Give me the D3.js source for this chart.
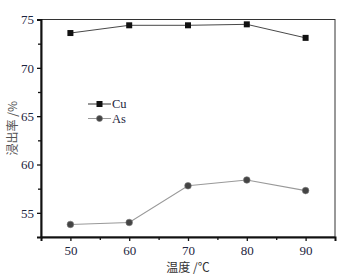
<!DOCTYPE html>
<html>
<head>
<meta charset="utf-8">
<script src="https://cdn.jsdelivr.net/npm/d3@7"></script>
<style>
  body { margin: 0; background: #fff; }
  text { font-family: "Liberation Serif", "DejaVu Serif", serif; }
</style>
</head>
<body>
<svg id="chart" width="351" height="277"></svg>
<script>
// data
const temps = [50, 60, 70, 80, 90];
const cuValues = [73.6, 74.4, 74.4, 74.5, 73.1];
const asValues = [53.8, 54.0, 57.8, 58.4, 57.3];
const xTicks = [50, 60, 70, 80, 90];
const yTicks = [55, 60, 65, 70, 75];

const margin = { top: 19.5, right: 16, bottom: 40, left: 41 };
const width = 351, height = 277;
const textColor = '#1d2540';

const svg = d3.select('#chart');

const x = d3.scaleLinear().domain([45, 95]).range([margin.left, width - margin.right]);
const y = d3.scaleLinear().domain([52.5, 75]).range([height - margin.bottom, margin.top]);

// frame top / right
svg.append('rect')
    .attr('x', x(45)).attr('y', y(75))
    .attr('width', x(95) - x(45)).attr('height', y(52.5) - y(75))
    .attr('fill', 'none').attr('stroke', '#333').attr('stroke-width', 1);

// bottom axis
const xAxis = svg.append('g')
    .attr('transform', `translate(0,${y(52.5)})`)
    .call(d3.axisBottom(x).tickValues(xTicks).tickSize(4).tickPadding(5).tickFormat(d3.format('d')));
svg.append('g')
    .attr('transform', `translate(0,${y(52.5)})`)
    .call(d3.axisBottom(x).tickValues([55, 65, 75, 85]).tickSize(3).tickFormat(''))
    .call(g => g.select('.domain').remove());

// left axis
const yAxis = svg.append('g')
    .attr('transform', `translate(${x(45)},0)`)
    .call(d3.axisLeft(y).tickValues(yTicks).tickSize(4).tickPadding(3).tickFormat(d3.format('d')));
svg.append('g')
    .attr('transform', `translate(${x(45)},0)`)
    .call(d3.axisLeft(y).tickValues([57.5, 62.5, 67.5, 72.5]).tickSize(3).tickFormat(''))
    .call(g => g.select('.domain').remove());

svg.selectAll('.domain').attr('stroke', '#111').attr('stroke-width', 2);
svg.selectAll('.tick line').attr('stroke', '#111').attr('stroke-width', 1.3);
svg.selectAll('.tick text').attr('fill', textColor).style('font-size', '13px')
    .style('font-family', '"Liberation Serif", serif');

// series
const line = d3.line().x((d, i) => x(temps[i])).y(d => y(d));

svg.append('path').datum(cuValues)
    .attr('d', line).attr('fill', 'none').attr('stroke', '#333').attr('stroke-width', 0.9);
svg.append('path').datum(asValues)
    .attr('d', line).attr('fill', 'none').attr('stroke', '#999').attr('stroke-width', 1.1);

svg.selectAll('.cu-pt').data(cuValues).join('rect')
    .attr('x', (d, i) => x(temps[i]) - 3).attr('y', d => y(d) - 3)
    .attr('width', 6).attr('height', 6).attr('fill', '#111');
svg.selectAll('.as-pt').data(asValues).join('circle')
    .attr('cx', (d, i) => x(temps[i])).attr('cy', d => y(d))
    .attr('r', 3.3).attr('fill', '#444').attr('stroke', '#777').attr('stroke-width', 0.6);

// legend
const legend = [
  { name: 'Cu', stroke: '#333', marker: 'rect' },
  { name: 'As', stroke: '#999', marker: 'circle' }
];
const lg = svg.append('g').attr('transform', 'translate(88,104)');
legend.forEach((d, i) => {
  const g = lg.append('g').attr('transform', `translate(0,${i * 14.5})`);
  g.append('line').attr('x1', 0).attr('x2', 23).attr('stroke', d.stroke).attr('stroke-width', 1);
  if (d.marker === 'rect') {
    g.append('rect').attr('x', 8.5).attr('y', -3).attr('width', 6).attr('height', 6).attr('fill', '#111');
  } else {
    g.append('circle').attr('cx', 11.5).attr('r', 3).attr('fill', '#444').attr('stroke', '#777').attr('stroke-width', 0.6);
  }
  g.append('text').attr('x', 24).attr('dy', '0.35em').attr('fill', textColor)
      .style('font-size', '12.5px').text(d.name);
});

// axis titles
svg.append('text')
    .attr('x', (x(45) + x(95)) / 2).attr('y', 272)
    .attr('text-anchor', 'middle').attr('fill', '#333')
    .style('font-family', '"Noto Sans CJK SC", sans-serif').style('font-size', '12px')
    .text('温度 /℃');
svg.append('text')
    .attr('transform', `translate(17,${(y(75) + y(52.5)) / 2}) rotate(-90)`)
    .attr('text-anchor', 'middle').attr('fill', '#555')
    .style('font-family', '"Noto Sans CJK SC", sans-serif').style('font-size', '12px')
    .text('浸出率 /%');
</script>
</body>
</html>
